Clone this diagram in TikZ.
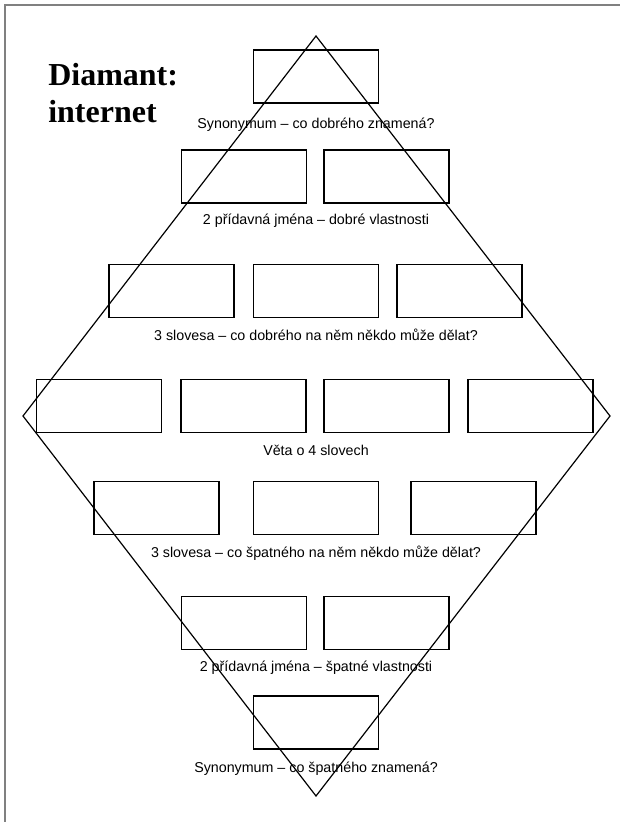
\documentclass[tikz,border=0pt]{standalone}
\usepackage{fontspec}
\setmainfont{Liberation Serif}
\setsansfont{Liberation Sans}
\usetikzlibrary{positioning}

\tikzset{
    wordbox/.style={draw, black, line width=1.3pt, minimum width=125*0.75pt, minimum height=53*0.75pt, inner sep=0pt},
    hint/.style={font=\sffamily\fontsize{10.7}{12}\selectfont, anchor=base, inner sep=0pt},
    heading/.style={font=\rmfamily\bfseries\fontsize{24}{28}\selectfont, anchor=base west, inner sep=0pt}
}

\begin{document}
\begin{tikzpicture}[x=0.75pt, y=-0.75pt]
    \useasboundingbox (0,0) rectangle (620,822);

    % page edge
    \draw[gray, line width=1.5pt] (5,822) -- (5,5) -- (620,5);

    % title
    \node[heading] (title1) at (48,85) {Diamant:};
    \node[heading] (title2) at (48,122) {internet};

    % diamond outline
    \coordinate (dtop) at (316,36);
    \coordinate (dright) at (610,416);
    \coordinate (dbottom) at (316,796);
    \coordinate (dleft) at (23,416);
    \draw[black, line width=0.9pt] (dtop) -- (dright) -- (dbottom) -- (dleft) -- cycle;

    % empty boxes
    \foreach \name/\x/\y in {
        r1a/316/76.5,
        r2a/244/176.5, r2b/386.5/176.5,
        r3a/171.5/291, r3b/316/291, r3c/459.5/291,
        r4a/99/406, r4b/243.5/406, r4c/386.5/406, r4d/530.5/406,
        r5a/156.5/508, r5b/316/508, r5c/473.5/508,
        r6a/244/623, r6b/386.5/623,
        r7a/316/722.5}
    {
        \node[wordbox] (\name) at (\x,\y) {};
    }

    % captions under the rows
    \foreach \name/\y/\txt in {
        l1/128/{Synonymum – co dobrého znamená?},
        l2/224/{2 přídavná jména – dobré vlastnosti},
        l3/340/{3 slovesa – co dobrého na něm někdo může dělat?},
        l4/455/{Věta o 4 slovech},
        l5/557/{3 slovesa – co špatného na něm někdo může dělat?},
        l6/671/{2 přídavná jména – špatné vlastnosti},
        l7/772/{Synonymum – co špatného znamená?}}
    {
        \node[hint] (\name) at (316,\y) {\txt};
    }
\end{tikzpicture}
\end{document}
